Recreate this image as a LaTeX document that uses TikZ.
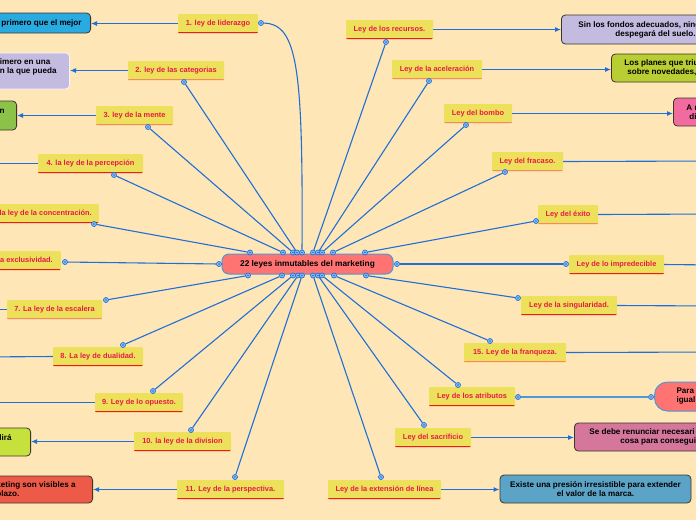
\documentclass[tikz,border=0pt]{standalone}
\usepackage{fontspec}
\setmainfont{Liberation Sans}
\usepackage{tikz}
\usetikzlibrary{arrows.meta, positioning}
\definecolor{pagebg}{HTML}{FFE6B6}
\definecolor{lawfill}{HTML}{EDE05A}
\definecolor{lawtext}{HTML}{E8194B}
\definecolor{ulred}{HTML}{EC1C1C}
\definecolor{ulsalmon}{HTML}{F7895E}
\definecolor{linkblue}{HTML}{1F6FD8}
\definecolor{knobfill}{HTML}{8DBFF0}
\definecolor{hubfill}{HTML}{FF7373}
\definecolor{hubbd}{HTML}{4A9AD8}
\definecolor{ideabd}{HTML}{3C3630}
\definecolor{ideablue}{HTML}{29ABE2}
\definecolor{idealilac}{HTML}{C3BBE0}
\definecolor{ideagreen}{HTML}{8BC34A}
\definecolor{idealime}{HTML}{C6E03C}
\definecolor{idearust}{HTML}{EE5A48}
\definecolor{ideaolive}{HTML}{B9CE33}
\definecolor{ideapink}{HTML}{F26B9E}
\definecolor{ideamauve}{HTML}{D4779A}
\definecolor{ideateal}{HTML}{5BA4C7}
\tikzset{
  lawbox/.style={fill=lawfill, rounded corners=1pt, minimum height=19pt, inner xsep=2pt, text=lawtext,
    font=\fontsize{7.4}{9}\selectfont\bfseries,
    path picture={\draw[#1, line width=2.6pt] (path picture bounding box.south west) -- (path picture bounding box.south east);}},
  idea/.style={draw=ideabd, line width=0.8pt, rounded corners=4pt, text=black, inner ysep=2pt,
    font=\fontsize{8.1}{9}\selectfont\bfseries},
  hub/.style={fill=hubfill, draw=hubbd, line width=1pt, rounded corners=7pt, minimum width=171pt, minimum height=20pt,
    font=\fontsize{8.3}{9}\selectfont\bfseries},
  knob/.style={circle, draw=linkblue, fill=knobfill, line width=0.7pt, minimum size=5pt, inner sep=0pt,
    path picture={\fill[linkblue] (path picture bounding box.center) circle (0.9pt);}},
  link/.style={draw=linkblue, line width=1.1pt},
  flow/.style={link, -{Latex[length=6pt, width=5pt]}}
}
\begin{document}
\begin{tikzpicture}[x=1pt, y=-1pt]
\useasboundingbox (0,0) rectangle (696,520);
\fill[pagebg] (0,0) rectangle (696,520);
\node[hub] (hub) at (307.5,264) {22 leyes inmutables del marketing};
\node[lawbox=ulred, minimum width=80pt] (l1) at (218,23.5) {1. ley de liderazgo};
\node[lawbox=ulsalmon, minimum width=96pt] (l2) at (176,70.5) {2. ley de las categorias};
\node[lawbox=ulsalmon, minimum width=77pt] (l3) at (134.5,115.5) {3. ley de la mente};
\node[lawbox=ulred, minimum width=105pt] (l4) at (90.5,163.5) {4. la ley de la percepción};
\node[lawbox=ulred, inner xsep=7pt, anchor=east] (l5) at (99,213.5) {5. la ley de la concentración.};
\node[lawbox=ulred, inner xsep=8pt, anchor=east] (l6) at (61,260.5) {6. la ley de la exclusividad.};
\node[lawbox=ulsalmon, minimum width=95pt] (l7) at (54.5,309.5) {7. La ley de la escalera};
\node[lawbox=ulred, minimum width=90pt] (l8) at (98,356.5) {8. La ley de dualidad.};
\node[lawbox=ulred, minimum width=88pt] (l9) at (139,402.5) {9. Ley de lo opuesto.};
\node[lawbox=ulred, minimum width=97pt] (l10) at (182.5,441.5) {10. la ley de la division};
\node[lawbox=ulred, minimum width=107pt] (l11) at (230.5,489.5) {11. Ley de la perspectiva.};
\node[lawbox=ulred, minimum width=87pt] (r1) at (389.5,29.5) {Ley de los recursos.};
\node[lawbox=ulsalmon, minimum width=90pt] (r2) at (437,69.5) {Ley de la aceleración};
\node[lawbox=ulsalmon, minimum width=68pt] (r3) at (478,113.5) {Ley del bombo};
\node[lawbox=ulsalmon, minimum width=71pt] (r4) at (527.5,161.5) {Ley del fracaso.};
\node[lawbox=ulsalmon, minimum width=60pt] (r5) at (568,214.5) {Ley del éxito};
\node[lawbox=ulred, minimum width=95pt] (r6) at (616.5,264.5) {Ley de lo impredecible};
\node[lawbox=ulred, minimum width=96pt] (r7) at (569,305.5) {Ley de la singularidad.};
\node[lawbox=ulsalmon, minimum width=102pt] (r8) at (515,352.5) {15. Ley de la franqueza.};
\node[lawbox=ulred, minimum width=86pt] (r9) at (472,396.5) {Ley de los atributos};
\node[lawbox=ulred, minimum width=76pt] (r10) at (433,437.5) {Ley del sacrificio};
\node[lawbox=ulred, minimum width=113pt] (r11) at (384.5,489.5) {Ley de la extensión de línea};
\node[idea, fill=ideablue, anchor=east, minimum height=20pt, inner xsep=9pt] (i1) at (91,23) {primero que el mejor};
\node[idea, fill=idealilac, draw=white!85!idealilac, anchor=east, minimum height=36pt, inner xsep=13pt, align=left] (i2) at (70,71) {imero en una\\n la que pueda\\~};
\node[idea, fill=ideagreen, anchor=east, minimum height=29pt, inner xsep=12pt, align=left] (i3) at (17,115.5) {n\\~};
\node[idea, fill=idealime, anchor=east, minimum height=28pt, inner xsep=19pt, align=left] (i10) at (31,442) {lirá\\~};
\node[idea, fill=idearust, anchor=east, minimum height=27pt, inner xsep=17pt, align=left] (i11) at (93,489.5) {keting son visibles a\\plazo.};
\node[idea, fill=idealilac, anchor=west, minimum height=29pt, inner xsep=17pt, align=left] (j1) at (561,29.5) {Sin los fondos adecuados, ning\\\hspace*{37pt}despegará del suelo.};
\node[idea, fill=ideaolive, anchor=west, minimum height=28pt, inner xsep=13pt, align=left] (j2) at (611,68) {Los planes que triu\\\hspace*{3pt}sobre novedades,};
\node[idea, fill=ideapink, anchor=west, minimum height=28pt, inner xsep=13pt, align=left] (j3) at (673,112) {A m\\\hspace*{3pt}di};
\node[idea, fill=hubfill, draw=hubbd, line width=1pt, rounded corners=13pt, anchor=west, minimum height=29pt, inner xsep=22pt, align=left] (j9) at (654,396.5) {Para\\igual};
\node[idea, fill=ideamauve, anchor=west, minimum height=28pt, inner xsep=15pt, align=left] (j10) at (574,437) {Se debe renunciar necesari\\\hspace*{31pt}cosa para consegui};
\node[idea, fill=ideateal, minimum width=191pt, minimum height=28pt, align=center] (j11) at (595.5,489) {Existe una presión irresistible para extender\\el valor de la marca.};
\node[knob] (h5) at (250,252.5) {}; \node[knob] (h4) at (283,252.5) {}; \node[knob] (h3) at (293,252.5) {};
\node[knob] (h2) at (297,252.5) {}; \node[knob] (h1) at (302,252.5) {}; \node[knob] (hr1) at (313,252.5) {};
\node[knob] (hr2) at (318,252.5) {}; \node[knob] (hr3) at (322,252.5) {}; \node[knob] (hr4) at (333,252.5) {};
\node[knob] (hr5) at (365,252.5) {}; \node[knob] (h6) at (219,264) {}; \node[knob] (hr6) at (397,264) {};
\node[knob] (h7) at (248,275.5) {}; \node[knob] (h8) at (282,275.5) {}; \node[knob] (h9) at (293,275.5) {};
\node[knob] (h10) at (298,275.5) {}; \node[knob] (h11) at (302,275.5) {}; \node[knob] (hr11) at (313,275.5) {};
\node[knob] (hr10) at (318,275.5) {}; \node[knob] (hr9) at (322,275.5) {}; \node[knob] (hr8) at (334,275.5) {};
\node[knob] (hr7) at (366,275.5) {};
\node[knob] (k1) at (261,23) {}; \node[knob] (k2) at (184,82) {}; \node[knob] (k3) at (148,127) {};
\node[knob] (k4) at (114,175) {}; \node[knob] (k5) at (94,224) {}; \node[knob] (k6) at (65,262) {};
\node[knob] (k7) at (106,300) {}; \node[knob] (k8) at (123,345) {}; \node[knob] (k9) at (153,391) {};
\node[knob] (k10) at (191,430) {}; \node[knob] (k11) at (235,477) {};
\node[knob] (kr1) at (386,42) {}; \node[knob] (kr2) at (429,81) {}; \node[knob] (kr3) at (466,125) {};
\node[knob] (kr4) at (505,172) {}; \node[knob] (kr5) at (536,221) {}; \node[knob] (kr6) at (566,264) {};
\node[knob] (kr7) at (518,298) {}; \node[knob] (kr8) at (490,341) {}; \node[knob] (kr9) at (458,385) {};
\node[knob] (kr10) at (424,425) {}; \node[knob] (kr11) at (381,477) {};
\node[knob] (kr9b) at (518,397) {}; \node[knob] (kj9) at (651,397) {};
\coordinate (o4) at (-20,163.5); \coordinate (o7) at (-20,309.5); \coordinate (o8) at (-20,357);
\coordinate (o9) at (-20,402.5); \coordinate (or4) at (716,161); \coordinate (or5) at (716,214);
\coordinate (or6) at (716,265); \coordinate (or7) at (716,306); \coordinate (or8) at (716,352);
\draw[link] (k1) .. controls (298,24) and (303,70) .. (h1);
\draw[link] (k2)--(h2); \draw[link] (k3)--(h3); \draw[link] (k4)--(h4); \draw[link] (k5)--(h5); \draw[link] (k6)--(h6);
\draw[link] (k7)--(h7); \draw[link] (k8)--(h8); \draw[link] (k9)--(h9); \draw[link] (k10)--(h10); \draw[link] (k11)--(h11);
\draw[link] (kr1)--(hr1); \draw[link] (kr2)--(hr2); \draw[link] (kr3)--(hr3); \draw[link] (kr4)--(hr4); \draw[link] (kr5)--(hr5);
\draw[link] (kr6)--(hr6); \draw[link] (kr7)--(hr7); \draw[link] (kr8)--(hr8); \draw[link] (kr9)--(hr9); \draw[link] (kr10)--(hr10);
\draw[link] (kr11)--(hr11);
\draw[link, draw=hubbd] (kr9b)--(kj9);
\draw[flow] (l1.west)--(l1.west -| i1.east); \draw[flow] (l2.west)--(l2.west -| i2.east); \draw[flow] (l3.west)--(l3.west -| i3.east);
\draw[flow] (l10.west)--(l10.west -| i10.east); \draw[flow] (l11.west)--(l11.west -| i11.east);
\draw[flow] (r1.east)--(r1.east -| j1.west); \draw[flow] (r2.east)--(r2.east -| j2.west); \draw[flow] (r3.east)--(r3.east -| j3.west);
\draw[flow] (r10.east)--(r10.east -| j10.west); \draw[flow] (r11.east)--(r11.east -| j11.west);
\draw[flow] (l4.west)--(o4); \draw[flow] (l7.west)--(o7); \draw[flow] (l8.west)--(o8); \draw[flow] (l9.west)--(o9);
\draw[flow] (r4.east)--(or4); \draw[flow] (r5.east)--(or5); \draw[flow] (r6.east)--(or6); \draw[flow] (r7.east)--(or7); \draw[flow] (r8.east)--(or8);
\end{tikzpicture}
\end{document}
